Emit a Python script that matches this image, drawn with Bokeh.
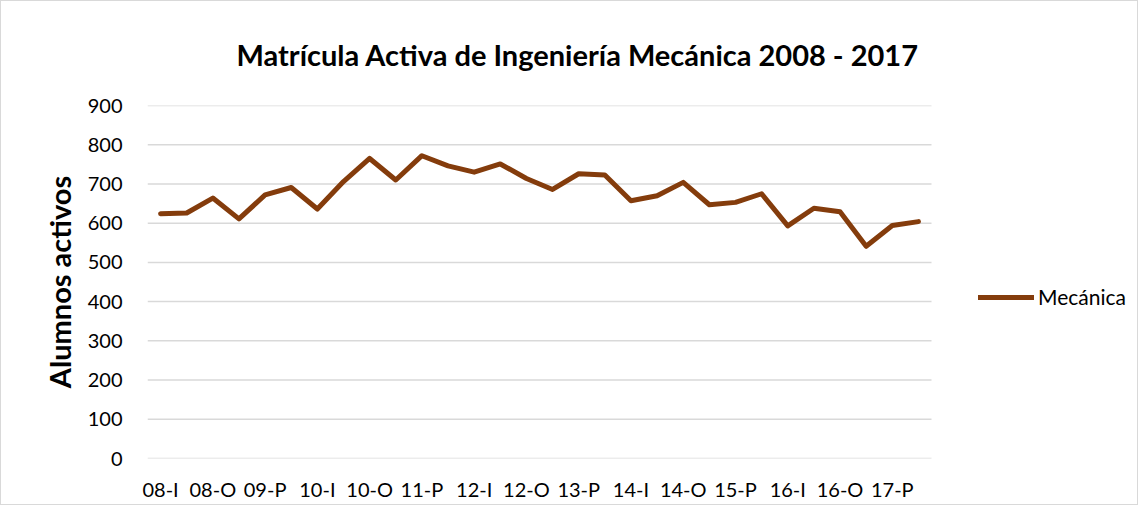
from bokeh.plotting import figure
from bokeh.models import FixedTicker, Legend, LegendItem, Range1d, ColumnDataSource
from bokeh.embed import file_html
from bokeh.resources import INLINE

periodos = ["08-I", "08-P", "08-O", "09-I", "09-P", "09-O", "10-I", "10-P", "10-O",
            "11-I", "11-P", "11-O", "12-I", "12-P", "12-O", "13-I", "13-P", "13-O",
            "14-I", "14-P", "14-O", "15-I", "15-P", "15-O", "16-I", "16-P", "16-O",
            "17-I", "17-P", "17-O"]
mecanica = [624, 626, 664, 611, 672, 691, 636, 706, 765, 710,
            772, 746, 730, 751, 714, 686, 726, 723, 657, 670,
            704, 647, 653, 675, 593, 638, 629, 541, 594, 604]
y_ticks = [0, 100, 200, 300, 400, 500, 600, 700, 800, 900]

FONT = "Lato"
n = len(periodos)
# plot area holds the 30 categories; the frame is widened on the right to hold the legend
x_end = -0.5 + n * (992 / 784)

p = figure(width=1138, height=505, output_backend="svg", toolbar_location=None,
           x_range=Range1d(-0.5, x_end), y_range=Range1d(0, 900),
           min_border_left=146, min_border_right=0, min_border_top=104, min_border_bottom=48)
p.styles = {"border": "1px solid #d9d9d9"}
p.outline_line_color = None
p.xgrid.grid_line_color = None
p.ygrid.grid_line_color = None

# horizontal gridlines limited to the category area
p.segment(x0=[-0.5] * len(y_ticks), x1=[n - 0.5] * len(y_ticks), y0=y_ticks, y1=y_ticks,
          line_color="#d9d9d9", line_width=1.5)

src = ColumnDataSource(dict(x=list(range(n)), y=mecanica))
r = p.line("x", "y", source=src, line_color="#843C0C", line_width=5,
           line_join="round", line_cap="round")

# title
p.title.text = "Matrícula Activa de Ingeniería Mecánica 2008 - 2017"
p.title.align = "left"
p.title.vertical_align = "top"
p.title.offset = 89
p.title.text_font = FONT
p.title.text_font_style = "bold"
p.title.text_font_size = "29px"
p.title.text_color = "#000000"
p.title.standoff = 64

# x axis
p.xaxis.ticker = FixedTicker(ticks=list(range(0, n, 2)))
p.xaxis.major_label_overrides = {i: periodos[i] for i in range(0, n, 2)}
p.xaxis.axis_line_color = None
p.xaxis.major_tick_line_color = None
p.xaxis.minor_tick_line_color = None
p.xaxis.major_label_text_font = FONT
p.xaxis.major_label_text_font_size = "20px"
p.xaxis.major_label_text_color = "#000000"
p.xaxis.major_label_standoff = 12

# y axis
p.yaxis.ticker = FixedTicker(ticks=y_ticks)
p.yaxis.axis_line_color = None
p.yaxis.major_tick_line_color = None
p.yaxis.minor_tick_line_color = None
p.yaxis.major_label_text_font = FONT
p.yaxis.major_label_text_font_size = "20px"
p.yaxis.major_label_text_color = "#000000"
p.yaxis.major_label_standoff = 19
p.yaxis.axis_label = "Alumnos activos"
p.yaxis.axis_label_text_font = FONT
p.yaxis.axis_label_text_font_style = "bold"
p.yaxis.axis_label_text_font_size = "29px"
p.yaxis.axis_label_text_color = "#000000"
p.yaxis.axis_label_standoff = 8

legend = Legend(items=[LegendItem(label="Mecánica", renderers=[r])],
                location=(831, 149), padding=0, margin=0,
                border_line_color=None, background_fill_alpha=0,
                glyph_width=56, label_standoff=4,
                label_text_font=FONT, label_text_font_size="21px",
                label_text_color="#000000")
p.add_layout(legend, "center")

open("out.html", "w").write(file_html(p, INLINE))
